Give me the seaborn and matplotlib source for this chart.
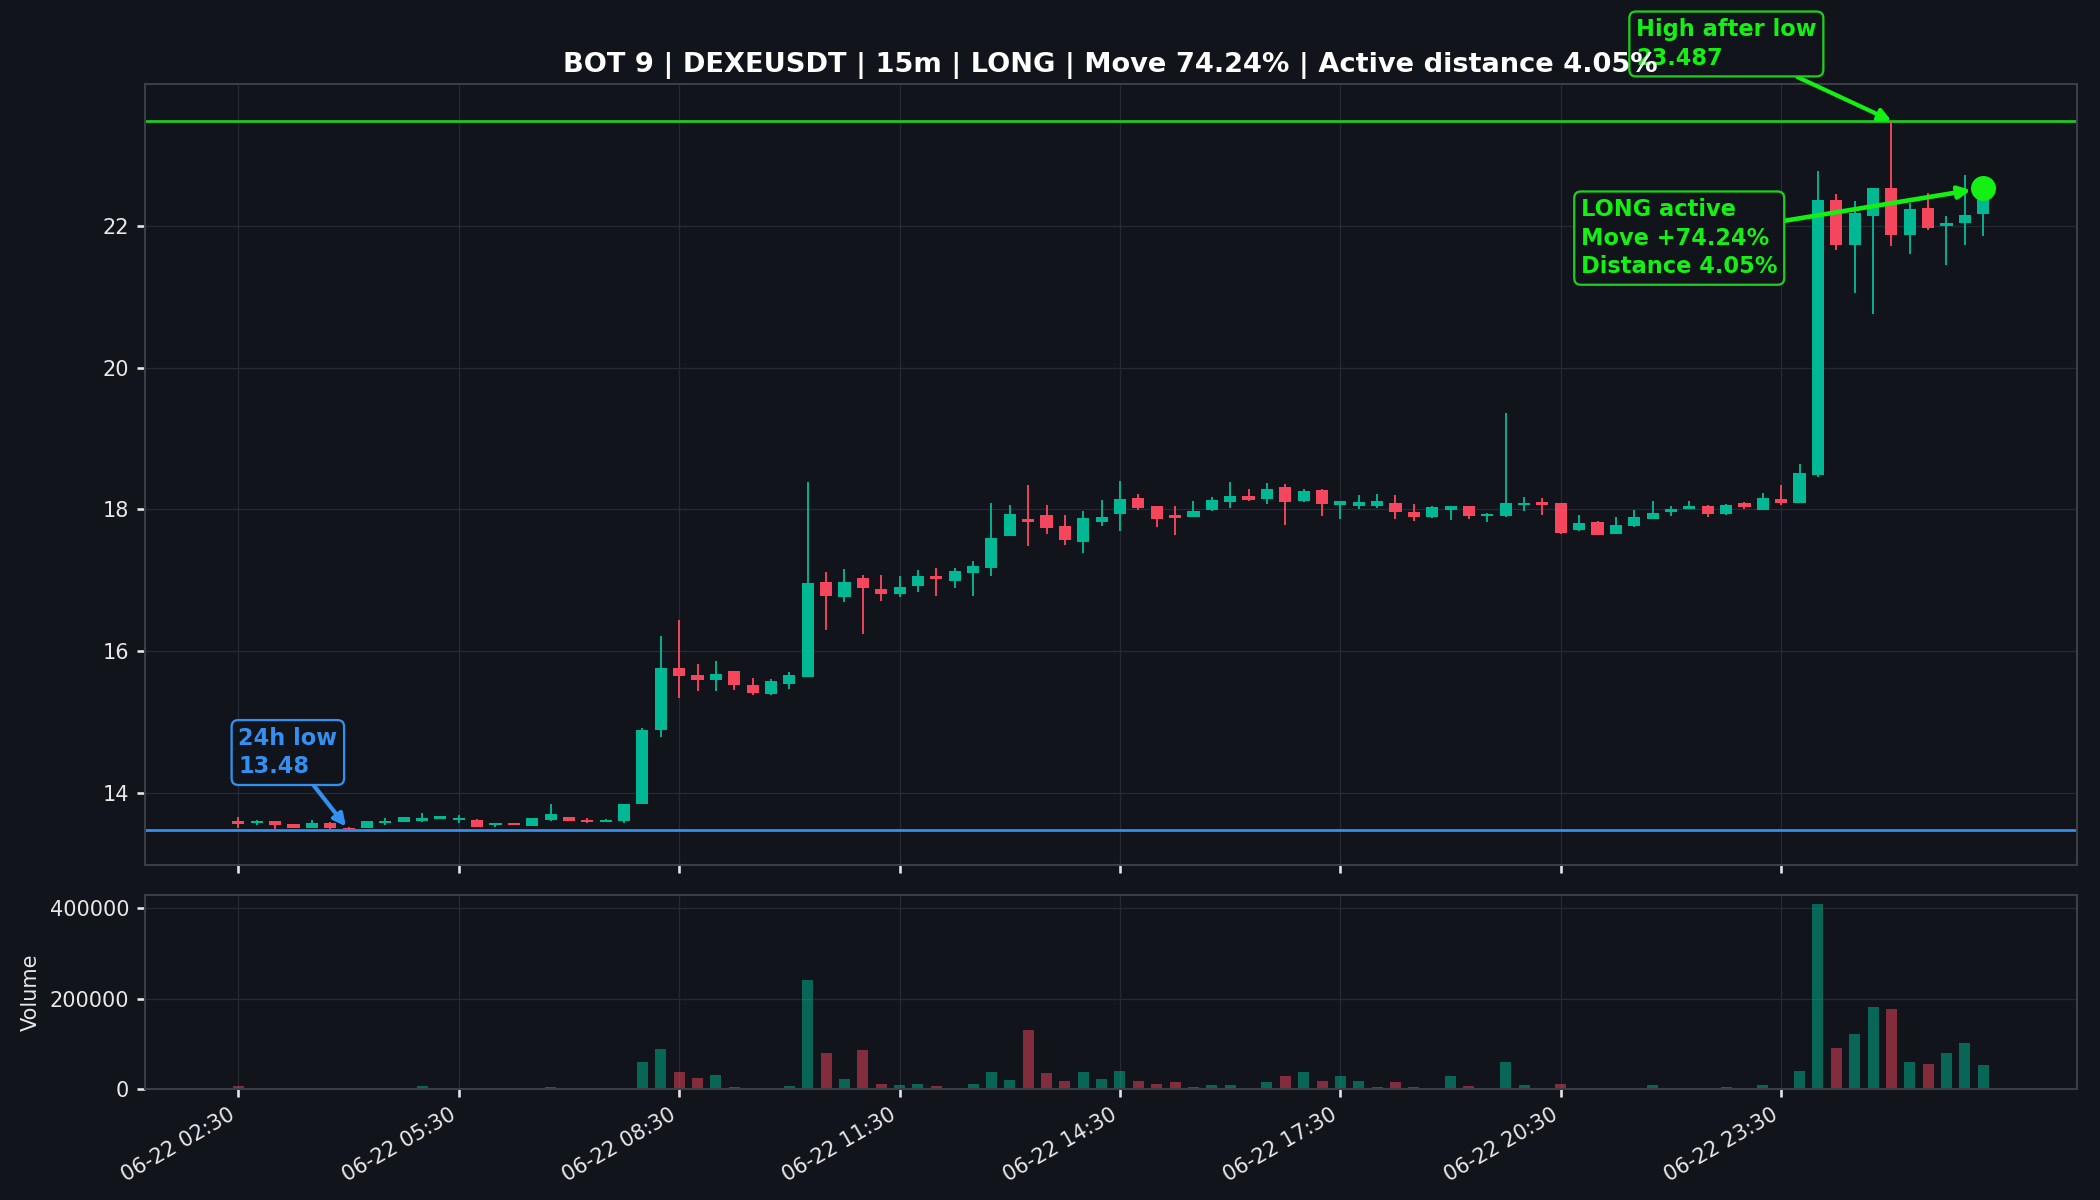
import numpy as np
import pandas as pd
import matplotlib
matplotlib.use("Agg")
import matplotlib.pyplot as plt
import seaborn as sns

# ---------------- data ----------------
opens = [13.61, 13.57, 13.60, 13.555, 13.50, 13.57, 13.50, 13.50, 13.57, 13.595,
         13.60, 13.636, 13.617, 13.617, 13.55, 13.58, 13.537, 13.617, 13.655, 13.617,
         13.594, 13.608, 13.85, 14.89, 15.77, 15.662, 15.592, 15.719, 15.53, 15.394,
         15.535, 15.639, 16.98, 16.76, 17.028, 16.877, 16.802, 16.924, 17.06, 16.995,
         17.107, 17.169, 17.631, 17.866, 17.923, 17.767, 17.546, 17.829, 17.937, 18.158,
         18.05, 17.923, 17.899, 17.993, 18.111, 18.191, 18.149, 18.313, 18.12, 18.276,
         18.064, 18.05, 18.055, 18.097, 17.97, 17.889, 17.993, 18.049, 17.908, 17.913,
         18.063, 18.101, 18.087, 17.71, 17.819, 17.654, 17.767, 17.866, 17.96, 18.012,
         18.054, 17.936, 18.087, 17.993, 18.148, 18.097, 18.487, 22.372, 21.727, 22.136,
         22.536, 21.877, 22.254, 22.0, 22.042, 22.17]
highs = [13.66, 13.62, 13.61, 13.56, 13.62, 13.585, 13.52, 13.60, 13.65, 13.655,
         13.71, 13.675, 13.69, 13.63, 13.57, 13.58, 13.64, 13.843, 13.655, 13.64,
         13.625, 13.84, 14.91, 16.21, 16.44, 15.818, 15.86, 15.72, 15.615, 15.606,
         15.705, 18.384, 17.112, 17.159, 17.075, 17.075, 17.06, 17.145, 17.169, 17.169,
         17.272, 18.087, 18.064, 18.346, 18.064, 17.923, 17.979, 18.135, 18.403, 18.22,
         18.05, 18.05, 18.12, 18.172, 18.384, 18.29, 18.37, 18.36, 18.285, 18.285,
         18.12, 18.205, 18.22, 18.205, 18.078, 18.054, 18.049, 18.049, 17.955, 19.358,
         18.172, 18.158, 18.09, 17.922, 17.842, 17.889, 17.993, 18.12, 18.049, 18.12,
         18.06, 18.078, 18.111, 18.228, 18.346, 18.643, 22.781, 22.452, 22.357, 22.536,
         23.487, 22.325, 22.466, 22.136, 22.715, 22.6]
lows = [13.50, 13.55, 13.49, 13.50, 13.50, 13.49, 13.48, 13.50, 13.55, 13.59,
        13.585, 13.635, 13.57, 13.52, 13.52, 13.55, 13.535, 13.61, 13.608, 13.57,
        13.59, 13.58, 13.84, 14.79, 15.34, 15.441, 15.441, 15.45, 15.38, 15.38,
        15.465, 15.63, 16.298, 16.70, 16.246, 16.712, 16.76, 16.84, 16.783, 16.886,
        16.783, 17.065, 17.62, 17.485, 17.654, 17.499, 17.381, 17.767, 17.701, 17.993,
        17.758, 17.64, 17.895, 17.984, 18.026, 18.12, 18.078, 17.781, 18.11, 17.909,
        17.866, 18.008, 18.026, 17.866, 17.843, 17.885, 17.852, 17.866, 17.828, 17.899,
        17.984, 17.922, 17.66, 17.70, 17.64, 17.65, 17.757, 17.86, 17.913, 18.01,
        17.899, 17.922, 18.002, 17.99, 18.063, 18.09, 18.464, 21.656, 21.053, 20.757,
        21.712, 21.604, 21.95, 21.444, 21.727, 21.854]
closes = [13.56, 13.60, 13.55, 13.50, 13.57, 13.50, 13.485, 13.60, 13.60, 13.655,
          13.64, 13.673, 13.65, 13.523, 13.57, 13.55, 13.64, 13.697, 13.608, 13.584,
          13.622, 13.838, 14.885, 15.77, 15.653, 15.592, 15.676, 15.53, 15.413, 15.578,
          15.662, 16.957, 16.783, 16.971, 16.886, 16.802, 16.91, 17.06, 17.014, 17.131,
          17.202, 17.593, 17.937, 17.829, 17.744, 17.57, 17.885, 17.89, 18.149, 18.026,
          17.866, 17.885, 17.984, 18.135, 18.191, 18.135, 18.285, 18.111, 18.262, 18.078,
          18.12, 18.111, 18.12, 17.97, 17.899, 18.03, 18.049, 17.908, 17.936, 18.087,
          18.096, 18.063, 17.673, 17.814, 17.64, 17.781, 17.889, 17.946, 18.002, 18.049,
          17.936, 18.063, 18.03, 18.158, 18.096, 18.511, 22.372, 21.727, 22.183, 22.536,
          21.868, 22.24, 21.971, 22.05, 22.15, 22.536]
volumes = [7400, 500, 3000, 1000, 3000, 3000, 500, 800, 600, 800,
           7400, 600, 500, 800, 600, 500, 900, 5000, 600, 700,
           800, 3000, 59000, 89500, 37000, 25000, 31800, 5000, 3000, 1500,
           7400, 240000, 80600, 23000, 85800, 11800, 9600, 11800, 5900, 3000,
           11800, 37000, 20700, 129400, 34800, 18500, 37000, 23000, 40700, 17000,
           11800, 14800, 5200, 9600, 9600, 1500, 14800, 28100, 37000, 17000,
           28100, 17000, 5200, 14800, 5200, 3000, 28100, 7400, 1000, 59000,
           9600, 3000, 11800, 3000, 3000, 3000, 3000, 9600, 3000, 1000,
           3000, 5200, 1000, 9600, 3000, 40700, 408900, 91700, 122700, 180400,
           176000, 59000, 56200, 79100, 102800, 54000]
start_time = "2025-06-22 02:30"
low_24h = 13.48
high_after_low = 23.487
move_pct = 74.24
distance_pct = 4.05
title = "BOT 9 | DEXEUSDT | 15m | LONG | Move 74.24% | Active distance 4.05%"

# ---------------- styling ----------------
BG = "#11141b"
GRID = "#262a33"
SPINE = "#3a3e47"
TXT = "#e8e8e8"
UP = "#00b894"
DOWN = "#f6465d"
LIME = "#14f014"
LINE_GREEN = "#1fcc1f"
BLUE = "#3390f0"

sns.set_theme(style="darkgrid", rc={
    "figure.facecolor": BG, "axes.facecolor": BG, "axes.edgecolor": SPINE,
    "grid.color": GRID, "grid.linewidth": 0.6, "text.color": TXT,
    "axes.labelcolor": TXT, "xtick.color": TXT, "ytick.color": TXT,
    "xtick.bottom": True, "ytick.left": True,
})
plt.rcParams["font.family"] = ["DejaVu Sans"]

times = pd.date_range(start_time, periods=len(closes), freq="15min")
df = pd.DataFrame({"t": times, "open": opens, "high": highs, "low": lows,
                   "close": closes, "volume": volumes})
df["idx"] = np.arange(len(df))
df["dir"] = np.where(df["close"] >= df["open"], "up", "down")

fig = plt.figure(figsize=(14, 8), dpi=150)
ax = fig.add_axes([0.0689, 0.279, 0.9201, 0.6507])
axv = fig.add_axes([0.0689, 0.0925, 0.9201, 0.162], sharex=ax)

# candles
colors = np.where(df["dir"] == "up", UP, DOWN)
ax.vlines(df["idx"], df["low"], df["high"], colors=colors, linewidth=0.9, zorder=2)
body_bottom = np.minimum(df["open"], df["close"])
body_h = np.abs(df["close"] - df["open"])
body_h = np.maximum(body_h, 0.012)
ax.bar(df["idx"], body_h, bottom=body_bottom, width=0.66, color=colors,
       linewidth=0, zorder=3)

ax.axhline(low_24h, color=BLUE, linewidth=1.3, zorder=1)
ax.axhline(high_after_low, color=LINE_GREEN, linewidth=1.3, zorder=1)

last_i = df["idx"].iloc[-1]
last_c = df["close"].iloc[-1]
ax.plot([last_i], [last_c], "o", color=LIME, markersize=11, zorder=6)

low_i = int(df["low"].idxmin())
high_i = int(df["high"].idxmax())

FS = 10.8
LS = 1.3
box_kw = dict(boxstyle="round,pad=0.3", facecolor=BG, linewidth=1.1)
ax.annotate(f"24h low\n{low_24h:.2f}", xy=(low_i, low_24h), xytext=(0, 14.57),
            textcoords="data", ha="left", va="center", color=BLUE,
            fontsize=FS, fontweight="bold", linespacing=LS,
            bbox=dict(edgecolor=BLUE, **box_kw),
            arrowprops=dict(arrowstyle="-|>", color=BLUE, lw=2.0,
                            mutation_scale=12, shrinkA=0, shrinkB=2),
            zorder=7)
ax.annotate(f"High after low\n{high_after_low:.3f}", xy=(high_i, high_after_low),
            xytext=(76.1, 24.57), textcoords="data", ha="left", va="center",
            color=LIME, fontsize=FS, fontweight="bold", linespacing=LS,
            bbox=dict(edgecolor=LINE_GREEN, **box_kw),
            arrowprops=dict(arrowstyle="-|>", color=LIME, lw=2.0,
                            mutation_scale=12, shrinkA=0, shrinkB=0),
            annotation_clip=False, zorder=7)
ax.annotate(f"LONG active\nMove +{move_pct:.2f}%\nDistance {distance_pct:.2f}%",
            xy=(last_i, last_c), xytext=(73.1, 21.83), textcoords="data",
            ha="left", va="center", color=LIME, fontsize=FS, fontweight="bold",
            linespacing=LS,
            bbox=dict(edgecolor=LINE_GREEN, **box_kw),
            arrowprops=dict(arrowstyle="-|>", color=LIME, lw=2.2,
                            mutation_scale=12, shrinkA=0, shrinkB=6),
            zorder=7)

ax.set_xlim(-5.1, 100.1)
ax.set_ylim(12.98, 24.0)
ax.set_yticks([14, 16, 18, 20, 22])
ax.set_title(title, color="white", fontsize=13.1, fontweight="bold", pad=6)
ax.title.set_zorder(20)
ax.tick_params(axis="x", labelbottom=False, length=4, color=TXT)
ax.tick_params(axis="y", labelsize=10, length=4, color=TXT)

# volume via seaborn
sns.barplot(data=df, x="idx", y="volume", hue="dir", native_scale=True,
            palette={"up": UP, "down": DOWN}, hue_order=["up", "down"],
            dodge=False, width=0.6, saturation=1, alpha=0.5, legend=False,
            linewidth=0, ax=axv)
axv.set_ylim(0, 430000)
axv.set_yticks([0, 200000, 400000])
axv.set_ylabel("Volume", fontsize=10)
axv.set_xlabel("")
tick_pos = [i for i, t in enumerate(times) if t.minute == 30 and t.hour % 3 == 2]
tick_pos = [p for p in tick_pos if p <= 90]
axv.set_xticks(tick_pos)
axv.set_xticklabels([times[p].strftime("%m-%d %H:%M") for p in tick_pos],
                    rotation=30, ha="right", fontsize=10)
axv.set_xlim(-5.1, 100.1)
axv.tick_params(axis="both", length=4, color=TXT, labelsize=10)
axv.ticklabel_format(axis="y", style="plain")

for a in (ax, axv):
    a.grid(True, color=GRID, linewidth=0.6)
    for s in a.spines.values():
        s.set_color(SPINE)
        s.set_linewidth(1.0)
    a.set_axisbelow(True)

fig.savefig("out.png", dpi=150, facecolor=BG)
